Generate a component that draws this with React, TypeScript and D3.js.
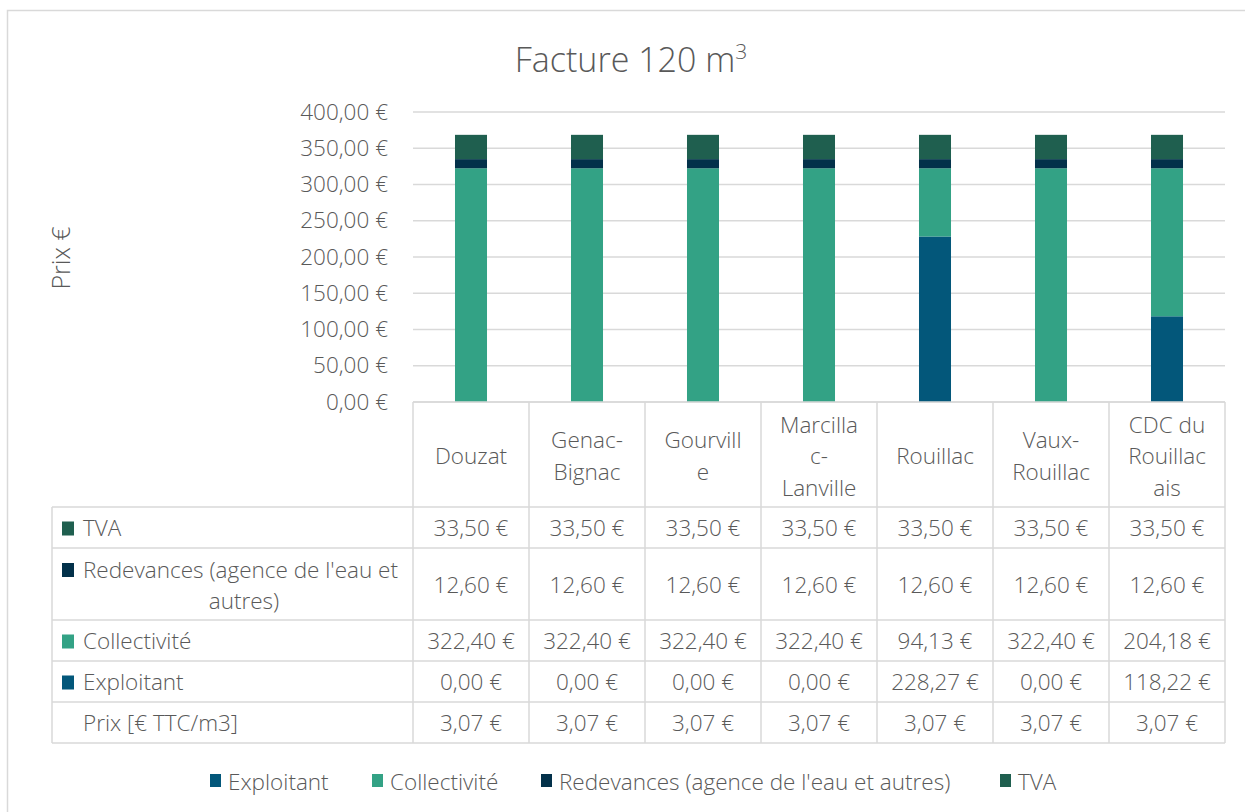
import { useEffect, useRef } from 'react'
import * as d3 from 'd3'

const categories = ['Douzat', 'Genac-Bignac', 'Gourville', 'Marcillac-Lanville', 'Rouillac', 'Vaux-Rouillac', 'CDC du Rouillacais']
const categoryLines = [
  ['Douzat'],
  ['Genac-', 'Bignac'],
  ['Gourvill', 'e'],
  ['Marcilla', 'c-', 'Lanville'],
  ['Rouillac'],
  ['Vaux-', 'Rouillac'],
  ['CDC du', 'Rouillac', 'ais'],
]
const exploitant = [0, 0, 0, 0, 228.27, 0, 118.22]
const collectivite = [322.4, 322.4, 322.4, 322.4, 94.13, 322.4, 204.18]
const redevances = [12.6, 12.6, 12.6, 12.6, 12.6, 12.6, 12.6]
const tva = [33.5, 33.5, 33.5, 33.5, 33.5, 33.5, 33.5]
const prix = [3.07, 3.07, 3.07, 3.07, 3.07, 3.07, 3.07]
const yTicks = [0, 50, 100, 150, 200, 250, 300, 350, 400]

const series = [
  { key: 'exploitant', name: 'Exploitant', color: '#03577a', values: exploitant },
  { key: 'collectivite', name: 'Collectivité', color: '#33a285', values: collectivite },
  { key: 'redevances', name: "Redevances (agence de l'eau et autres)", color: '#03314a', values: redevances },
  { key: 'tva', name: 'TVA', color: '#1f5f4f', values: tva },
]

const fr = d3.formatLocale({ decimal: ',', thousands: ' ', grouping: [3], currency: ['', ' €'] })
const euro = (v: number) => fr.format('$,.2f')(v)

const FONT = '"Open Sans", "Noto Sans", sans-serif'
const TEXT = '#595959'
const GRID = '#d9d9d9'
const FS = '22.5px'

export default function App() {
  const svgRef = useRef<SVGSVGElement>(null)

  useEffect(() => {
    if (!svgRef.current) return
    const svg = d3.select(svgRef.current)
    svg.selectAll('*').remove()

    const width = 1245
    const height = 812
    const plot = { left: 413, right: 1225, top: 112, bottom: 402 }

    // chart frame
    svg.append('rect')
      .attr('x', 7.5).attr('y', 10.5)
      .attr('width', width).attr('height', height)
      .attr('fill', '#fff').attr('stroke', GRID).attr('stroke-width', 1.5)

    // title
    const title = svg.append('text')
      .attr('x', 631).attr('y', 72)
      .attr('text-anchor', 'middle')
      .style('font-family', FONT).style('font-size', '34px').style('font-weight', 300)
      .style('fill', TEXT)
    title.append('tspan').text('Facture 120 m')
    title.append('tspan').attr('dy', -13).style('font-size', '21px').text('3')

    const xScale = d3.scaleBand<string>()
      .domain(categories)
      .range([plot.left, plot.right])
      .paddingInner(0.724)
      .paddingOuter(0.362)
    const colScale = d3.scaleBand<string>()
      .domain(categories)
      .range([plot.left, plot.right])
      .padding(0)
    const yScale = d3.scaleLinear().domain([0, 400]).range([plot.bottom, plot.top])

    // grid
    svg.append('g')
      .selectAll('line')
      .data(yTicks)
      .join('line')
      .attr('x1', plot.left).attr('x2', plot.right)
      .attr('y1', d => yScale(d)).attr('y2', d => yScale(d))
      .attr('stroke', GRID).attr('stroke-width', 1.5)

    // y axis labels
    const yAxis = svg.append('g')
      .attr('transform', `translate(${plot.left - 25},0)`)
      .call(d3.axisLeft(yScale).tickValues(yTicks).tickSize(0).tickPadding(0).tickFormat(d => euro(d as number)))
    yAxis.select('.domain').remove()
    yAxis.selectAll('text')
      .style('font-family', FONT).style('font-size', FS).style('font-weight', 300)
      .style('fill', TEXT)

    svg.append('text')
      .attr('transform', `translate(70,258) rotate(-90)`)
      .attr('text-anchor', 'middle')
      .style('font-family', FONT).style('font-size', '25px').style('font-weight', 300)
      .style('fill', TEXT)
      .text('Prix €')

    // stacked bars
    const rows = categories.map((c, i) => {
      const r: Record<string, any> = { category: c }
      series.forEach(s => { r[s.key] = s.values[i] })
      return r
    })
    const stacked = d3.stack().keys(series.map(s => s.key))(rows as any)
    stacked.forEach((layer, li) => {
      svg.append('g')
        .selectAll('rect')
        .data(layer)
        .join('rect')
        .attr('x', (_, i) => xScale(categories[i])!)
        .attr('width', xScale.bandwidth())
        .attr('y', d => yScale(d[1]))
        .attr('height', d => yScale(d[0]) - yScale(d[1]))
        .attr('fill', series[li].color)
    })

    // data table
    const rowY = [402, 507, 548, 620, 661, 702, 743]
    const tableLeft = 52
    const tbl = svg.append('g')
    const line = (x1: number, y1: number, x2: number, y2: number) =>
      tbl.append('line').attr('x1', x1).attr('y1', y1).attr('x2', x2).attr('y2', y2)
        .attr('stroke', GRID).attr('stroke-width', 1.5)

    // header grid (only over data columns)
    categories.forEach(c => line(colScale(c)!, rowY[0], colScale(c)!, rowY[6]))
    line(plot.right, rowY[0], plot.right, rowY[6])
    line(plot.left, rowY[0], plot.right, rowY[0])
    for (let r = 1; r < rowY.length; r++) line(tableLeft, rowY[r], plot.right, rowY[r])
    line(tableLeft, rowY[1], tableLeft, rowY[6])

    const txt = (x: number, y: number, s: string, anchor = 'middle') =>
      tbl.append('text')
        .attr('x', x).attr('y', y)
        .attr('text-anchor', anchor)
        .attr('dominant-baseline', 'central')
        .style('font-family', FONT).style('font-size', FS).style('font-weight', 300)
        .style('fill', TEXT)
        .text(s)

    // header
    categories.forEach((c, i) => {
      const cx = colScale(c)! + colScale.bandwidth() / 2
      const lines = categoryLines[i]
      const mid = (rowY[0] + rowY[1]) / 2 + 1
      lines.forEach((l, li) => txt(cx, mid + (li - (lines.length - 1) / 2) * 31.5, l))
    })

    const tableRows = [
      { label: ['TVA'], color: series[3].color, values: tva.map(euro) },
      { label: ["Redevances (agence de l'eau et", 'autres)'], color: series[2].color, values: redevances.map(euro) },
      { label: ['Collectivité'], color: series[1].color, values: collectivite.map(euro) },
      { label: ['Exploitant'], color: series[0].color, values: exploitant.map(euro) },
      { label: ['Prix [€ TTC/m3]'], color: null, values: prix.map(euro) },
    ]
    tableRows.forEach((row, r) => {
      const y0 = rowY[r + 1]
      const y1 = rowY[r + 2]
      const mid = (y0 + y1) / 2
      if (row.label.length === 1) {
        if (row.color) tbl.append('rect').attr('x', 62).attr('y', mid - 6).attr('width', 12).attr('height', 14).attr('fill', row.color)
        txt(83, mid, row.label[0], 'start')
      } else {
        const top = mid - 15
        tbl.append('rect').attr('x', 62).attr('y', top - 6).attr('width', 12).attr('height', 14).attr('fill', row.color!)
        txt(83, top, row.label[0], 'start')
        txt(244, top + 31, row.label[1], 'middle')
      }
      categories.forEach((c, i) => {
        txt(colScale(c)! + colScale.bandwidth() / 2, mid, row.values[i])
      })
    })

    // legend
    const legendX = [210, 372, 541, 1000]
    const legend = svg.append('g')
    series.forEach((s, i) => {
      legend.append('rect').attr('x', legendX[i]).attr('y', 774).attr('width', 11).attr('height', 13).attr('fill', s.color)
      legend.append('text')
        .attr('x', legendX[i] + 18).attr('y', 781)
        .attr('dominant-baseline', 'central')
        .style('font-family', FONT).style('font-size', FS).style('font-weight', 300)
        .style('fill', TEXT)
        .text(s.name)
    })
  }, [])

  return (
    <div style={{ position: 'absolute', left: 0, top: 0, width: 1245, height: 812, overflow: 'hidden' }}>
      <svg ref={svgRef} width={1245} height={812} style={{ display: 'block' }} />
    </div>
  )
}
